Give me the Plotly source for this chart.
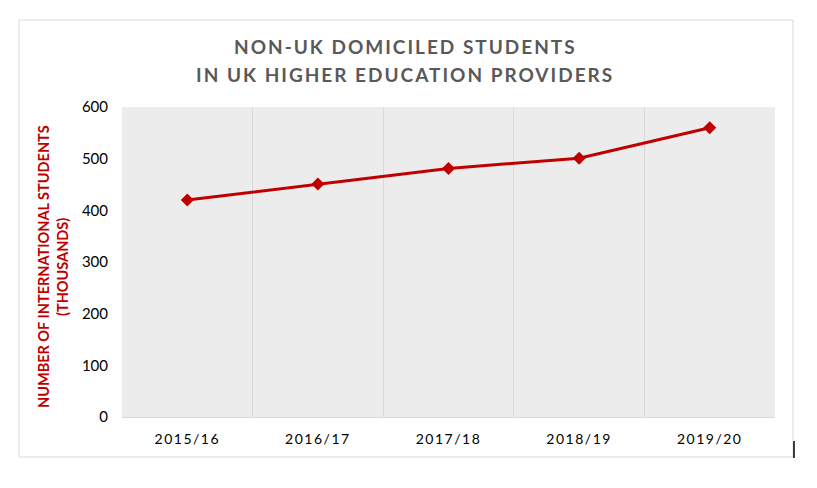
import plotly.graph_objects as go

years = ["2015/16", "2016/17", "2017/18", "2018/19", "2019/20"]
students_k = [420, 451, 481, 501, 560]
y_ticks = [0, 100, 200, 300, 400, 500, 600]
title_lines = ["NON-UK DOMICILED STUDENTS", "IN UK HIGHER EDUCATION PROVIDERS"]
y_title_lines = ["NUMBER OF INTERNATIONAL STUDENTS", "(THOUSANDS)"]

RED = "#c00000"
FONT = "Lato"

# page body has an 8px margin, so the figure is drawn 8px smaller
OFF = 8
WIN_W, WIN_H = 817, 488
W, H = WIN_W - OFF, WIN_H - OFF
# plot area in window pixels
PL, PR, PT, PB = 122, 775, 107, 417

def px(x):
    return (x - PL) / (PR - PL)

def py(y):
    return (PB - y) / (PB - PT)

fig = go.Figure()
fig.add_trace(go.Scatter(
    x=years, y=students_k, mode="lines+markers",
    line=dict(color=RED, width=3),
    marker=dict(symbol="diamond", size=10, color=RED),
    hoverinfo="x+y", showlegend=False,
))

title_font = dict(family=FONT, size=19, color="#595959", weight="bold")
ytitle_font = dict(family=FONT, size=14.5, color=RED, weight="bold")
annotations = [
    dict(text=title_lines[0], xref="paper", yref="paper", x=px(405), y=py(46),
         xanchor="center", yanchor="middle", showarrow=False, font=title_font),
    dict(text=title_lines[1], xref="paper", yref="paper", x=px(405), y=py(74),
         xanchor="center", yanchor="middle", showarrow=False, font=title_font),
    dict(text=y_title_lines[0], xref="paper", yref="paper", x=px(43), y=py(267),
         xanchor="center", yanchor="middle", showarrow=False, textangle=-90, font=ytitle_font),
    dict(text=y_title_lines[1], xref="paper", yref="paper", x=px(62), y=py(267),
         xanchor="center", yanchor="middle", showarrow=False, textangle=-90, font=ytitle_font),
]

fig.update_layout(
    width=W, height=H,
    margin=dict(l=PL - OFF, r=W - (PR - OFF), t=PT - OFF, b=H - (PB - OFF), pad=0),
    paper_bgcolor="white",
    plot_bgcolor="#ececec",
    font=dict(family=FONT, size=14, color="#000000"),
    xaxis=dict(
        type="category",
        tickson="boundaries",
        showgrid=True, gridcolor="#d9d9d9", gridwidth=1,
        showline=True, linecolor="#d9d9d9", linewidth=1,
        ticks="", ticklabelstandoff=9,
        tickfont=dict(family=FONT, size=14, color="#000000"),
        range=[-0.5, 4.5],
        fixedrange=True,
    ),
    yaxis=dict(
        range=[0, 600],
        tickvals=y_ticks,
        showgrid=False, zeroline=False, showline=False,
        ticks="", ticklabelstandoff=13,
        tickfont=dict(family=FONT, size=15, color="#000000"),
        fixedrange=True,
    ),
    annotations=annotations,
    shapes=[
        dict(type="rect", xref="paper", yref="paper",
             x0=px(19), x1=px(793), y0=py(457), y1=py(20),
             line=dict(color="#d9d9d9", width=1), fillcolor="rgba(0,0,0,0)", layer="below"),
        dict(type="line", xref="paper", yref="paper",
             x0=px(794), x1=px(794), y0=py(458), y1=py(441),
             line=dict(color="#000000", width=1.5)),
    ],
)

post_script = """
document.querySelectorAll('.annotation-text').forEach(function(e){
  var t = e.textContent;
  if (t.indexOf('NON-UK') === 0 || t.indexOf('IN UK') === 0) { e.style.letterSpacing = '2px'; }
});
document.querySelectorAll('.xtick text').forEach(function(e){ e.style.letterSpacing = '1.5px'; });
"""

fig.write_html("out.html", post_script=post_script)
